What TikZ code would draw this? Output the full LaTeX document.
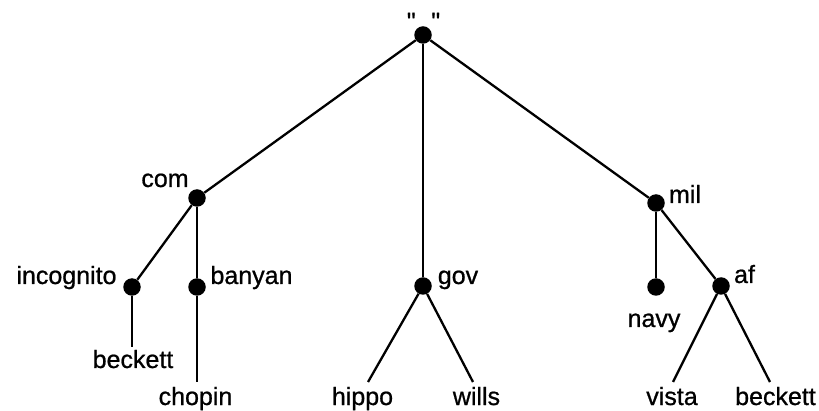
\documentclass[tikz,border=0pt]{standalone}
\usepackage{fontspec}
\setmainfont{Liberation Sans}
\newfontfamily\lblfont[RawFeature={embolden=0.8}]{Liberation Sans}
\begin{document}
\begin{tikzpicture}[x=1pt,y=-1pt,
  dot/.style={circle,fill=black,inner sep=0pt,minimum size=17.5pt},
  edge/.style={line width=2.3pt},
  lbl/.style={anchor=base,inner sep=0pt,font=\lblfont\fontsize{25}{28}\selectfont}]
\useasboundingbox (0,0) rectangle (819,411);
% dots
\node[dot] (root) at (423,35) {};
\node[dot] (com) at (197,198) {};
\node[dot] (incognito) at (132,287) {};
\node[dot] (banyan) at (197,287) {};
\node[dot] (gov) at (423,286) {};
\node[dot] (mil) at (656,203) {};
\node[dot] (navy) at (656,287) {};
\node[dot] (af) at (721,286) {};
% free ends
\coordinate (beckettL) at (132,347);
\coordinate (chopin) at (197,382);
\coordinate (hippo) at (368,382);
\coordinate (wills) at (473,382);
\coordinate (vista) at (673,382);
\coordinate (beckettR) at (770,382);
% edges
\draw[edge] (root) -- (com);
\draw[edge] (root) -- (gov);
\draw[edge] (root) -- (mil);
\draw[edge] (com) -- (incognito);
\draw[edge] (com) -- (banyan);
\draw[edge] (incognito) -- (beckettL);
\draw[edge] (banyan) -- (chopin);
\draw[edge] (gov) -- (hippo);
\draw[edge] (gov) -- (wills);
\draw[edge] (mil) -- (navy);
\draw[edge] (mil) -- (af);
\draw[edge] (af) -- (vista);
\draw[edge] (af) -- (beckettR);
% labels
\node[lbl] (lroot) at (423.5,30) {\char"22\hspace{15.6pt}\char"22};
\node[lbl] (lcom) at (165,187) {com};
\node[lbl] (lincognito) at (66.5,284) {incognito};
\node[lbl] (lbanyan) at (251.5,284) {banyan};
\node[lbl] (lgov) at (458,284) {gov};
\node[lbl] (lmil) at (685,203) {mil};
\node[lbl] (laf) at (744.5,283) {af};
\node[lbl] (lnavy) at (654,327) {navy};
\node[lbl] (lbeckettL) at (133,368) {beckett};
\node[lbl] (lchopin) at (195.5,405) {chopin};
\node[lbl] (lhippo) at (362.5,405) {hippo};
\node[lbl] (lwills) at (476.5,405) {wills};
\node[lbl] (lvista) at (672,405) {vista};
\node[lbl] (lbeckettR) at (775.5,405) {beckett};
\end{tikzpicture}
\end{document}
